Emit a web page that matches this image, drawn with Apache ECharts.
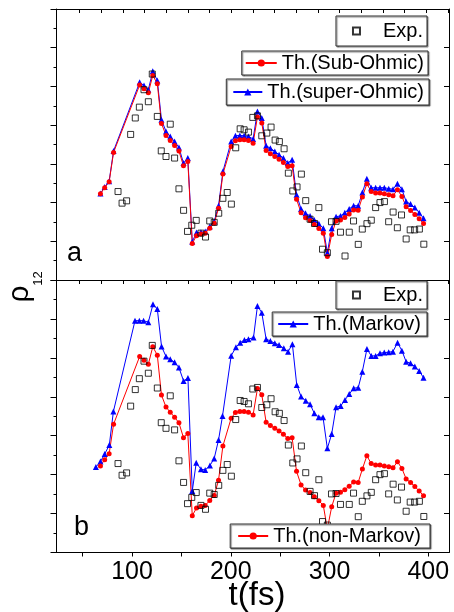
<!DOCTYPE html>
<html><head><meta charset="utf-8">
<script src="https://cdn.jsdelivr.net/npm/echarts@6/dist/echarts.min.js"></script>
<style>html,body{margin:0;padding:0;background:#fff}#c{width:454px;height:612px}</style>
</head><body><div id="c"></div>
<script>
// ---- data (t in fs, rho12 in arbitrary units 0..14) ----
const expT = [85.8, 89.9, 94.5, 98.6, 103.3, 107.4, 112.1, 116.5, 120.5, 125.6, 129.6, 134.4, 138.7, 143.1, 147.5, 152.2, 156.2, 160.5, 165.0, 169.8, 174.4, 178.7, 183.2, 187.8, 192.0, 196.4, 200.6, 205.0, 209.5, 213.5, 217.9, 222.3, 227.0, 231.4, 236.5, 240.8, 244.9, 249.2, 254.0, 258.3, 262.8, 267.1, 271.5, 275.9, 280.3, 284.8, 289.2, 292.9, 297.8, 302.0, 306.6, 311.1, 315.7, 320.0, 324.3, 329.1, 333.2, 337.9, 342.3, 346.7, 351.1, 355.6, 359.9, 364.4, 368.7, 372.9, 377.6, 381.7, 386.2, 391.0, 395.5];
const expRho = [4.57, 3.97, 4.09, 7.52, 8.37, 8.93, 9.83, 9.21, 10.64, 8.45, 6.67, 6.38, 8.05, 6.30, 4.71, 3.60, 2.51, 2.83, 3.08, 2.42, 2.22, 3.05, 2.98, 3.45, 4.22, 4.52, 3.92, 6.83, 7.81, 7.76, 7.64, 8.40, 8.48, 7.45, 7.59, 7.90, 7.23, 7.15, 6.78, 5.52, 4.60, 4.81, 5.47, 4.10, 3.14, 2.92, 3.74, 1.59, 1.41, 3.01, 3.03, 2.47, 1.24, 2.47, 3.05, 1.84, 2.63, 2.91, 3.09, 3.74, 4.00, 4.05, 3.01, 3.51, 2.70, 3.36, 2.12, 2.59, 2.59, 2.63, 1.85];

const thT = [68.0, 72.3, 76.8, 81.3, 107.7, 112.1, 116.5, 121.0, 125.6, 129.8, 134.4, 138.7, 143.1, 147.5, 152.1, 156.5, 161.0, 165.3, 169.8, 174.1, 178.7, 183.2, 187.6, 192.0, 200.4, 204.7, 209.2, 213.5, 217.9, 222.6, 227.0, 231.4, 235.8, 240.1, 244.6, 248.9, 253.3, 257.7, 262.1, 266.6, 271.2, 275.7, 280.3, 284.6, 289.2, 293.7, 297.8, 302.2, 306.6, 311.1, 315.5, 319.9, 324.4, 329.0, 333.3, 337.8, 342.2, 346.7, 351.1, 355.5, 360.0, 364.3, 368.8, 373.3, 377.6, 382.1, 386.4, 390.8, 395.2];
const subOhmic = [4.45, 4.77, 5.07, 6.59, 10.07, 9.88, 9.67, 10.57, 10.14, 8.09, 7.47, 7.21, 6.95, 6.66, 5.90, 6.12, 1.89, 2.29, 2.38, 2.42, 2.67, 2.93, 3.71, 5.47, 6.90, 7.19, 7.24, 7.24, 7.21, 7.07, 8.42, 8.11, 6.69, 6.52, 6.38, 6.24, 6.07, 5.86, 5.90, 4.17, 3.47, 3.21, 3.08, 2.87, 2.66, 2.42, 1.21, 2.35, 3.05, 3.10, 3.23, 3.41, 3.62, 3.60, 4.29, 4.97, 4.57, 4.50, 4.49, 4.45, 4.40, 4.35, 4.66, 4.32, 3.78, 3.59, 3.39, 3.16, 2.92];
const superOhmic = [4.47, 4.80, 5.10, 6.67, 10.21, 10.05, 9.83, 10.78, 10.31, 8.28, 7.67, 7.41, 7.15, 6.84, 6.04, 6.30, 1.98, 2.45, 2.47, 2.50, 2.76, 3.02, 3.83, 5.60, 7.15, 7.45, 7.47, 7.45, 7.41, 7.29, 8.71, 8.37, 6.93, 6.81, 6.64, 6.47, 6.30, 6.04, 6.21, 4.40, 3.67, 3.45, 3.31, 3.10, 2.90, 2.67, 1.41, 2.67, 3.27, 3.31, 3.48, 3.67, 3.84, 3.83, 4.52, 5.23, 4.77, 4.76, 4.77, 4.77, 4.72, 4.69, 4.97, 4.69, 4.05, 3.92, 3.74, 3.48, 3.19];
const nonMarkov = subOhmic;

const markovT = [63.4, 68.0, 72.3, 77.0, 81.1, 103.0, 107.4, 111.7, 116.5, 121.2, 125.6, 129.9, 134.4, 138.7, 143.1, 147.5, 152.2, 156.6, 161.0, 165.0, 169.8, 174.1, 178.9, 183.2, 187.6, 191.6, 200.4, 205.2, 209.5, 213.8, 217.9, 223.0, 227.0, 231.4, 235.8, 240.1, 244.6, 248.9, 253.7, 258.0, 262.4, 266.8, 271.2, 275.9, 280.3, 284.6, 289.1, 293.4, 297.8, 302.2, 306.6, 311.3, 315.7, 320.0, 324.5, 329.1, 333.2, 337.9, 342.3, 346.7, 351.1, 355.4, 359.9, 364.2, 368.9, 373.3, 377.6, 382.1, 386.4, 390.8, 395.2];
const markov = [4.39, 4.67, 5.06, 5.52, 7.24, 11.91, 11.91, 11.91, 11.83, 12.75, 12.51, 10.58, 10.07, 9.93, 9.77, 9.50, 8.81, 8.97, 3.16, 4.61, 4.28, 4.24, 4.47, 4.83, 5.78, 7.01, 10.11, 10.54, 10.78, 10.92, 10.96, 11.04, 12.67, 12.32, 10.96, 10.87, 10.75, 10.66, 10.49, 10.32, 10.70, 8.61, 8.01, 7.79, 7.62, 7.15, 6.95, 6.95, 5.35, 6.09, 7.46, 7.53, 7.84, 8.14, 8.44, 8.47, 9.29, 10.46, 10.10, 10.10, 10.24, 10.27, 10.29, 10.32, 10.78, 10.37, 9.80, 9.72, 9.55, 9.33, 8.98];

const xTickLabels = [100, 200, 300, 400];
const xTicksMain = [50, 100, 150, 200, 250, 300, 350, 400];
const xTicksMinor = [46.8, 68.7, 90.7, 112.6, 134.6, 156.5, 178.4, 200.4, 222.3, 244.3, 266.2, 288.1, 310.1, 332.0, 354.0, 375.9, 397.9, 419.8];

const zip = (a, b) => a.map((v, i) => [v, b[i]]);
const FONT = '"Liberation Sans", Arial, sans-serif';
const X_MIN = 23.5, X_MAX = 421;

function xAx(grid, pos, ticks, inside, labels) {
  return {
    type: 'value', gridIndex: grid, position: pos, min: X_MIN, max: X_MAX,
    axisLine: { show: true, onZero: false, lineStyle: { color: '#000', width: 1 } },
    axisTick: { show: true, customValues: ticks, inside: inside, length: 4, lineStyle: { color: '#000' } },
    axisLabel: labels ? { show: true, customValues: labels, color: '#000', fontSize: 25, fontFamily: FONT, margin: 7 } : { show: false },
    splitLine: { show: false }
  };
}
function yAx(grid, pos) {
  const left = pos === 'left';
  return {
    type: 'value', gridIndex: grid, position: pos, min: 0, max: 14, interval: 2,
    axisLine: { show: true, onZero: false, lineStyle: { color: '#000', width: 1 } },
    axisTick: { show: true, inside: !left, length: left ? 6 : 5, lineStyle: { color: '#000' } },
    minorTick: { show: left, splitNumber: 2, length: 3, lineStyle: { color: '#000' } },
    axisLabel: { show: false },
    splitLine: { show: false }
  };
}
function lineSeries(name, xi, yi, t, v, color, symbol, size) {
  return {
    type: 'line', name: name, xAxisIndex: xi, yAxisIndex: yi, data: zip(t, v),
    symbol: symbol, symbolSize: size, showSymbol: true,
    lineStyle: { color: color, width: 1 }, itemStyle: { color: color },
    animation: false, z: 2
  };
}
function expSeries(xi, yi) {
  return {
    type: 'scatter', name: 'Exp.', xAxisIndex: xi, yAxisIndex: yi, data: zip(expT, expRho),
    symbol: 'rect', symbolSize: 6,
    itemStyle: { color: 'rgba(0,0,0,0)', borderColor: '#000', borderWidth: 1 },
    animation: false, z: 3
  };
}
const legBase = {
  backgroundColor: '#fff', borderColor: '#333', borderWidth: 1, selectedMode: false, itemGap: 0,
  shadowColor: 'rgba(0,0,0,0.5)', shadowBlur: 1, shadowOffsetX: 1, shadowOffsetY: 1,
  textStyle: { fontFamily: FONT, fontSize: 20, color: '#000' }
};
function leg(data, right, top, padding, itemW, textPadLeft) {
  return Object.assign({}, legBase, {
    data: data, right: right, top: top, padding: padding, itemWidth: itemW, itemHeight: itemW < 15 ? 7 : 9,
    textStyle: Object.assign({}, legBase.textStyle, { padding: [0, 0, 0, textPadLeft] })
  });
}

const chart = echarts.init(document.getElementById('c'), null, { renderer: 'canvas' });
chart.setOption({
  backgroundColor: '#fff',
  animation: false,
  grid: [
    { left: 56.5, top: 9, width: 392.5, height: 271 },
    { left: 56.5, top: 280, width: 392.5, height: 272.5 }
  ],
  xAxis: [
    xAx(0, 'bottom', xTicksMinor, false, null),
    xAx(0, 'top', xTicksMinor, true, null),
    xAx(1, 'bottom', xTicksMain, false, xTickLabels),
    xAx(1, 'top', xTicksMinor, true, null)
  ],
  yAxis: [yAx(0, 'left'), yAx(0, 'right'), yAx(1, 'left'), yAx(1, 'right')],
  legend: [
    leg(['Exp.'], 27, 16, [5, 4, 5, 16], 7, 18),
    leg(['Th.(Sub-Ohmic)'], 26, 51, [2, 4, 2, 3], 31, 0),
    leg(['Th.(super-Ohmic)'], 25, 79, [3, 5, 3, 6], 29, 0),
    leg(['Exp.'], 27, 281, [4, 4, 4, 16], 7, 18),
    leg(['Th.(Markov)'], 27, 312, [2, 6, 2, 5], 30, 0),
    leg(['Th.(non-Markov)'], 24, 524, [2, 9, 2, 7], 30, 0)
  ],
  series: [
    lineSeries('Th.(super-Ohmic)', 0, 0, thT, superOhmic, '#0000ff', 'triangle', 6),
    lineSeries('Th.(Sub-Ohmic)', 0, 0, thT, subOhmic, '#ff0000', 'circle', 5),
    expSeries(0, 0),
    lineSeries('Th.(Markov)', 2, 2, markovT, markov, '#0000ff', 'triangle', 6),
    lineSeries('Th.(non-Markov)', 2, 2, thT, nonMarkov, '#ff0000', 'circle', 5),
    expSeries(2, 2)
  ],
  graphic: [
    { type: 'text', x: 67, y: 254, style: { text: 'a', font: '27px ' + FONT, fill: '#000', align: 'left', verticalAlign: 'middle' } },
    { type: 'text', x: 74, y: 528, style: { text: 'b', font: '27px ' + FONT, fill: '#000', align: 'left', verticalAlign: 'middle' } },
    { type: 'text', x: 20, y: 294, rotation: Math.PI / 2, style: { text: 'ρ', font: '30px ' + FONT, fill: '#000', align: 'center', verticalAlign: 'middle' } },
    { type: 'text', x: 38.5, y: 278.5, rotation: Math.PI / 2, style: { text: '12', font: '13px ' + FONT, fill: '#000', align: 'center', verticalAlign: 'middle' } },
    { type: 'text', x: 257, y: 596, style: { text: 't(fs)', font: '33px ' + FONT, fill: '#000', align: 'center', verticalAlign: 'middle' } }
  ]
});
</script></body></html>
